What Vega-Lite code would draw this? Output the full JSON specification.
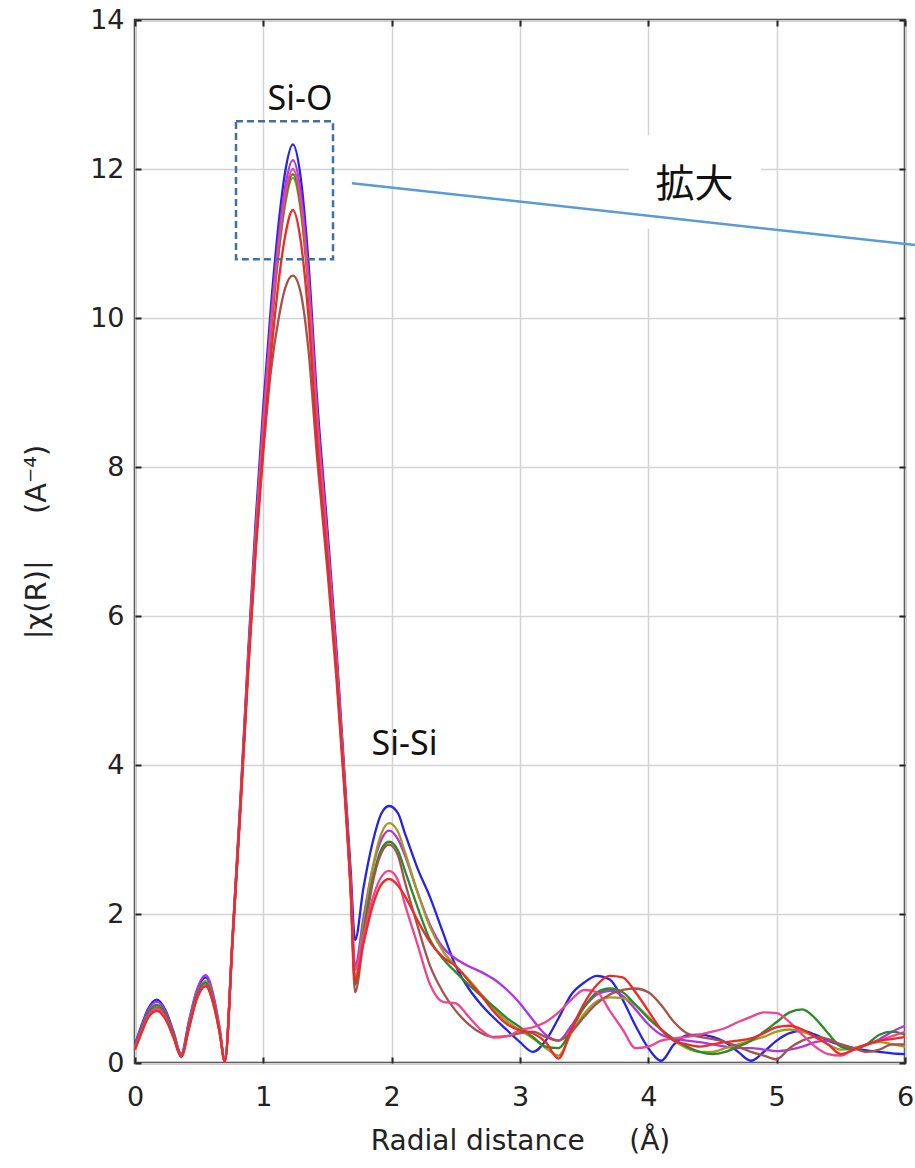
{
"$schema":"https://vega.github.io/schema/vega-lite/v6.json",
"width":770,"height":1043,
"autosize":{"type":"none"},
"padding":{"left":135,"top":20,"right":10,"bottom":105},
"background":"white",
"config":{"font":"DejaVu Sans","view":{"stroke":"#333333","strokeWidth":2.5}},
"datasets":{
"curves":[
{"s":"blue","x":0,"y":0.25},{"s":"blue","x":0.05,"y":0.5},{"s":"blue","x":0.1,"y":0.72},{"s":"blue","x":0.17,"y":0.85},{"s":"blue","x":0.24,"y":0.7},{"s":"blue","x":0.3,"y":0.42},{"s":"blue","x":0.36,"y":0.12},{"s":"blue","x":0.42,"y":0.55},{"s":"blue","x":0.48,"y":0.95},{"s":"blue","x":0.55,"y":1.15},{"s":"blue","x":0.62,"y":0.82},{"s":"blue","x":0.66,"y":0.45},{"s":"blue","x":0.7,"y":0.03},
{"s":"blue","x":0.76,"y":1.7},{"s":"blue","x":0.82,"y":3.5},{"s":"blue","x":0.88,"y":5.45},{"s":"blue","x":0.94,"y":7.27},{"s":"blue","x":1,"y":8.82},{"s":"blue","x":1.06,"y":10.17},{"s":"blue","x":1.12,"y":11.28},{"s":"blue","x":1.17,"y":11.96},{"s":"blue","x":1.23,"y":12.33},{"s":"blue","x":1.29,"y":11.9},{"s":"blue","x":1.35,"y":10.79},{"s":"blue","x":1.42,"y":8.88},{"s":"blue","x":1.5,"y":7.15},{"s":"blue","x":1.57,"y":5.55},{"s":"blue","x":1.63,"y":3.95},{"s":"blue","x":1.68,"y":2.6},
{"s":"blue","x":1.715,"y":1.65},{"s":"blue","x":1.78,"y":2.35},{"s":"blue","x":1.85,"y":2.95},{"s":"blue","x":1.92,"y":3.35},{"s":"blue","x":1.98,"y":3.45},{"s":"blue","x":2.05,"y":3.35},
{"s":"blue","x":2.1,"y":3.1},{"s":"blue","x":2.2,"y":2.62},{"s":"blue","x":2.3,"y":2.22},{"s":"blue","x":2.4,"y":1.75},{"s":"blue","x":2.5,"y":1.3},{"s":"blue","x":2.6,"y":1.0},{"s":"blue","x":2.7,"y":0.78},{"s":"blue","x":2.8,"y":0.6},{"s":"blue","x":2.9,"y":0.44},{"s":"blue","x":3.0,"y":0.28},{"s":"blue","x":3.1,"y":0.15},{"s":"blue","x":3.2,"y":0.3},{"s":"blue","x":3.3,"y":0.6},{"s":"blue","x":3.4,"y":0.92},{"s":"blue","x":3.5,"y":1.08},{"s":"blue","x":3.6,"y":1.17},{"s":"blue","x":3.7,"y":1.12},{"s":"blue","x":3.8,"y":0.85},{"s":"blue","x":3.9,"y":0.5},{"s":"blue","x":4.0,"y":0.2},{"s":"blue","x":4.1,"y":0.03},{"s":"blue","x":4.2,"y":0.25},{"s":"blue","x":4.3,"y":0.37},{"s":"blue","x":4.4,"y":0.38},{"s":"blue","x":4.5,"y":0.35},{"s":"blue","x":4.6,"y":0.28},{"s":"blue","x":4.7,"y":0.15},{"s":"blue","x":4.8,"y":0.03},{"s":"blue","x":4.9,"y":0.15},{"s":"blue","x":5.0,"y":0.3},{"s":"blue","x":5.1,"y":0.4},{"s":"blue","x":5.2,"y":0.43},{"s":"blue","x":5.3,"y":0.38},{"s":"blue","x":5.4,"y":0.3},{"s":"blue","x":5.5,"y":0.24},{"s":"blue","x":5.6,"y":0.2},{"s":"blue","x":5.7,"y":0.17},{"s":"blue","x":5.8,"y":0.15},{"s":"blue","x":5.9,"y":0.13},{"s":"blue","x":6.0,"y":0.12},

{"s":"violet","x":0,"y":0.24},{"s":"violet","x":0.05,"y":0.48},{"s":"violet","x":0.1,"y":0.7},{"s":"violet","x":0.17,"y":0.82},{"s":"violet","x":0.24,"y":0.68},{"s":"violet","x":0.3,"y":0.4},{"s":"violet","x":0.36,"y":0.11},{"s":"violet","x":0.42,"y":0.56},{"s":"violet","x":0.48,"y":0.97},{"s":"violet","x":0.55,"y":1.18},{"s":"violet","x":0.62,"y":0.84},{"s":"violet","x":0.66,"y":0.46},{"s":"violet","x":0.7,"y":0.03},
{"s":"violet","x":0.76,"y":1.68},{"s":"violet","x":0.82,"y":3.45},{"s":"violet","x":0.88,"y":5.38},{"s":"violet","x":0.94,"y":7.15},{"s":"violet","x":1,"y":8.67},{"s":"violet","x":1.06,"y":10.0},{"s":"violet","x":1.12,"y":11.09},{"s":"violet","x":1.17,"y":11.76},{"s":"violet","x":1.23,"y":12.12},{"s":"violet","x":1.29,"y":11.7},{"s":"violet","x":1.35,"y":10.6},{"s":"violet","x":1.42,"y":8.73},{"s":"violet","x":1.5,"y":7.03},{"s":"violet","x":1.57,"y":5.45},{"s":"violet","x":1.63,"y":3.88},{"s":"violet","x":1.68,"y":2.45},
{"s":"violet","x":1.715,"y":1.3},{"s":"violet","x":1.78,"y":1.95},{"s":"violet","x":1.85,"y":2.6},{"s":"violet","x":1.92,"y":3.0},{"s":"violet","x":1.98,"y":3.12},{"s":"violet","x":2.05,"y":3.0},
{"s":"violet","x":2.1,"y":2.8},{"s":"violet","x":2.2,"y":2.3},{"s":"violet","x":2.3,"y":1.85},{"s":"violet","x":2.4,"y":1.55},{"s":"violet","x":2.5,"y":1.4},{"s":"violet","x":2.6,"y":1.3},{"s":"violet","x":2.7,"y":1.22},{"s":"violet","x":2.8,"y":1.12},{"s":"violet","x":2.9,"y":0.98},{"s":"violet","x":3.0,"y":0.8},{"s":"violet","x":3.1,"y":0.58},{"s":"violet","x":3.2,"y":0.38},{"s":"violet","x":3.3,"y":0.3},{"s":"violet","x":3.4,"y":0.5},{"s":"violet","x":3.5,"y":0.75},{"s":"violet","x":3.6,"y":0.92},{"s":"violet","x":3.7,"y":0.97},{"s":"violet","x":3.8,"y":0.9},{"s":"violet","x":3.9,"y":0.72},{"s":"violet","x":4.0,"y":0.52},{"s":"violet","x":4.1,"y":0.38},{"s":"violet","x":4.2,"y":0.33},{"s":"violet","x":4.3,"y":0.3},{"s":"violet","x":4.4,"y":0.28},{"s":"violet","x":4.5,"y":0.25},{"s":"violet","x":4.6,"y":0.22},{"s":"violet","x":4.7,"y":0.2},{"s":"violet","x":4.8,"y":0.2},{"s":"violet","x":4.9,"y":0.18},{"s":"violet","x":5.0,"y":0.16},{"s":"violet","x":5.1,"y":0.18},{"s":"violet","x":5.2,"y":0.22},{"s":"violet","x":5.3,"y":0.28},{"s":"violet","x":5.4,"y":0.3},{"s":"violet","x":5.5,"y":0.25},{"s":"violet","x":5.6,"y":0.2},{"s":"violet","x":5.7,"y":0.24},{"s":"violet","x":5.8,"y":0.32},{"s":"violet","x":5.9,"y":0.42},{"s":"violet","x":6.0,"y":0.5},

{"s":"olive","x":0,"y":0.22},{"s":"olive","x":0.05,"y":0.45},{"s":"olive","x":0.1,"y":0.65},{"s":"olive","x":0.17,"y":0.77},{"s":"olive","x":0.24,"y":0.64},{"s":"olive","x":0.3,"y":0.38},{"s":"olive","x":0.36,"y":0.1},{"s":"olive","x":0.42,"y":0.5},{"s":"olive","x":0.48,"y":0.9},{"s":"olive","x":0.55,"y":1.1},{"s":"olive","x":0.62,"y":0.78},{"s":"olive","x":0.66,"y":0.43},{"s":"olive","x":0.7,"y":0.02},
{"s":"olive","x":0.76,"y":1.65},{"s":"olive","x":0.82,"y":3.4},{"s":"olive","x":0.88,"y":5.28},{"s":"olive","x":0.94,"y":7.01},{"s":"olive","x":1,"y":8.5},{"s":"olive","x":1.06,"y":9.8},{"s":"olive","x":1.12,"y":10.87},{"s":"olive","x":1.17,"y":11.52},{"s":"olive","x":1.23,"y":11.88},{"s":"olive","x":1.29,"y":11.46},{"s":"olive","x":1.35,"y":10.4},{"s":"olive","x":1.42,"y":8.55},{"s":"olive","x":1.5,"y":6.89},{"s":"olive","x":1.57,"y":5.35},{"s":"olive","x":1.63,"y":3.8},{"s":"olive","x":1.68,"y":2.38},
{"s":"olive","x":1.715,"y":1.15},{"s":"olive","x":1.78,"y":1.85},{"s":"olive","x":1.85,"y":2.6},{"s":"olive","x":1.92,"y":3.08},{"s":"olive","x":1.98,"y":3.22},{"s":"olive","x":2.05,"y":3.1},
{"s":"olive","x":2.1,"y":2.85},{"s":"olive","x":2.2,"y":2.3},{"s":"olive","x":2.3,"y":1.82},{"s":"olive","x":2.4,"y":1.5},{"s":"olive","x":2.5,"y":1.3},{"s":"olive","x":2.6,"y":1.12},{"s":"olive","x":2.7,"y":0.92},{"s":"olive","x":2.8,"y":0.72},{"s":"olive","x":2.9,"y":0.56},{"s":"olive","x":3.0,"y":0.44},{"s":"olive","x":3.1,"y":0.33},{"s":"olive","x":3.2,"y":0.2},{"s":"olive","x":3.3,"y":0.1},{"s":"olive","x":3.4,"y":0.4},{"s":"olive","x":3.5,"y":0.66},{"s":"olive","x":3.6,"y":0.83},{"s":"olive","x":3.7,"y":0.88},{"s":"olive","x":3.8,"y":0.87},{"s":"olive","x":3.9,"y":0.78},{"s":"olive","x":4.0,"y":0.62},{"s":"olive","x":4.1,"y":0.45},{"s":"olive","x":4.2,"y":0.3},{"s":"olive","x":4.3,"y":0.2},{"s":"olive","x":4.4,"y":0.15},{"s":"olive","x":4.5,"y":0.15},{"s":"olive","x":4.6,"y":0.2},{"s":"olive","x":4.7,"y":0.25},{"s":"olive","x":4.8,"y":0.3},{"s":"olive","x":4.9,"y":0.35},{"s":"olive","x":5.0,"y":0.42},{"s":"olive","x":5.1,"y":0.45},{"s":"olive","x":5.2,"y":0.42},{"s":"olive","x":5.3,"y":0.35},{"s":"olive","x":5.4,"y":0.25},{"s":"olive","x":5.5,"y":0.18},{"s":"olive","x":5.6,"y":0.2},{"s":"olive","x":5.7,"y":0.25},{"s":"olive","x":5.8,"y":0.28},{"s":"olive","x":5.9,"y":0.25},{"s":"olive","x":6.0,"y":0.22},

{"s":"green","x":0,"y":0.22},{"s":"green","x":0.05,"y":0.45},{"s":"green","x":0.1,"y":0.66},{"s":"green","x":0.17,"y":0.78},{"s":"green","x":0.24,"y":0.65},{"s":"green","x":0.3,"y":0.38},{"s":"green","x":0.36,"y":0.1},{"s":"green","x":0.42,"y":0.5},{"s":"green","x":0.48,"y":0.9},{"s":"green","x":0.55,"y":1.08},{"s":"green","x":0.62,"y":0.77},{"s":"green","x":0.66,"y":0.42},{"s":"green","x":0.7,"y":0.02},
{"s":"green","x":0.76,"y":1.66},{"s":"green","x":0.82,"y":3.42},{"s":"green","x":0.88,"y":5.3},{"s":"green","x":0.94,"y":7.04},{"s":"green","x":1,"y":8.53},{"s":"green","x":1.06,"y":9.84},{"s":"green","x":1.12,"y":10.92},{"s":"green","x":1.17,"y":11.57},{"s":"green","x":1.23,"y":11.93},{"s":"green","x":1.29,"y":11.51},{"s":"green","x":1.35,"y":10.44},{"s":"green","x":1.42,"y":8.59},{"s":"green","x":1.5,"y":6.92},{"s":"green","x":1.57,"y":5.37},{"s":"green","x":1.63,"y":3.82},{"s":"green","x":1.68,"y":2.39},
{"s":"green","x":1.715,"y":1.05},{"s":"green","x":1.78,"y":1.75},{"s":"green","x":1.85,"y":2.45},{"s":"green","x":1.92,"y":2.87},{"s":"green","x":1.98,"y":2.97},{"s":"green","x":2.05,"y":2.85},
{"s":"green","x":2.1,"y":2.6},{"s":"green","x":2.2,"y":2.1},{"s":"green","x":2.3,"y":1.65},{"s":"green","x":2.4,"y":1.4},{"s":"green","x":2.5,"y":1.22},{"s":"green","x":2.6,"y":1.05},{"s":"green","x":2.7,"y":0.9},{"s":"green","x":2.8,"y":0.75},{"s":"green","x":2.9,"y":0.6},{"s":"green","x":3.0,"y":0.48},{"s":"green","x":3.1,"y":0.35},{"s":"green","x":3.2,"y":0.22},{"s":"green","x":3.3,"y":0.2},{"s":"green","x":3.4,"y":0.45},{"s":"green","x":3.5,"y":0.75},{"s":"green","x":3.6,"y":0.95},{"s":"green","x":3.7,"y":1.0},{"s":"green","x":3.8,"y":0.95},{"s":"green","x":3.9,"y":0.78},{"s":"green","x":4.0,"y":0.6},{"s":"green","x":4.1,"y":0.45},{"s":"green","x":4.2,"y":0.32},{"s":"green","x":4.3,"y":0.22},{"s":"green","x":4.4,"y":0.15},{"s":"green","x":4.5,"y":0.12},{"s":"green","x":4.6,"y":0.15},{"s":"green","x":4.7,"y":0.22},{"s":"green","x":4.8,"y":0.3},{"s":"green","x":4.9,"y":0.42},{"s":"green","x":5.0,"y":0.55},{"s":"green","x":5.1,"y":0.68},{"s":"green","x":5.2,"y":0.72},{"s":"green","x":5.3,"y":0.6},{"s":"green","x":5.4,"y":0.4},{"s":"green","x":5.5,"y":0.22},{"s":"green","x":5.6,"y":0.18},{"s":"green","x":5.7,"y":0.25},{"s":"green","x":5.8,"y":0.38},{"s":"green","x":5.9,"y":0.42},{"s":"green","x":6.0,"y":0.38},

{"s":"brown","x":0,"y":0.2},{"s":"brown","x":0.05,"y":0.43},{"s":"brown","x":0.1,"y":0.63},{"s":"brown","x":0.17,"y":0.74},{"s":"brown","x":0.24,"y":0.62},{"s":"brown","x":0.3,"y":0.36},{"s":"brown","x":0.36,"y":0.09},{"s":"brown","x":0.42,"y":0.48},{"s":"brown","x":0.48,"y":0.87},{"s":"brown","x":0.55,"y":1.05},{"s":"brown","x":0.62,"y":0.75},{"s":"brown","x":0.66,"y":0.41},{"s":"brown","x":0.7,"y":0.02},
{"s":"brown","x":0.76,"y":1.63},{"s":"brown","x":0.82,"y":3.35},{"s":"brown","x":0.88,"y":5.18},{"s":"brown","x":0.94,"y":6.85},{"s":"brown","x":1,"y":8.2},{"s":"brown","x":1.06,"y":9.3},{"s":"brown","x":1.12,"y":10.0},{"s":"brown","x":1.17,"y":10.4},{"s":"brown","x":1.23,"y":10.57},{"s":"brown","x":1.29,"y":10.35},{"s":"brown","x":1.35,"y":9.6},{"s":"brown","x":1.42,"y":8.1},{"s":"brown","x":1.5,"y":6.6},{"s":"brown","x":1.57,"y":5.15},{"s":"brown","x":1.63,"y":3.7},{"s":"brown","x":1.68,"y":2.3},
{"s":"brown","x":1.715,"y":0.95},{"s":"brown","x":1.78,"y":1.65},{"s":"brown","x":1.85,"y":2.4},{"s":"brown","x":1.92,"y":2.82},{"s":"brown","x":1.98,"y":2.93},{"s":"brown","x":2.05,"y":2.78},
{"s":"brown","x":2.1,"y":2.45},{"s":"brown","x":2.2,"y":1.85},{"s":"brown","x":2.3,"y":1.3},{"s":"brown","x":2.4,"y":0.95},{"s":"brown","x":2.5,"y":0.7},{"s":"brown","x":2.6,"y":0.52},{"s":"brown","x":2.7,"y":0.4},{"s":"brown","x":2.8,"y":0.35},{"s":"brown","x":2.9,"y":0.36},{"s":"brown","x":3.0,"y":0.4},{"s":"brown","x":3.1,"y":0.42},{"s":"brown","x":3.2,"y":0.35},{"s":"brown","x":3.3,"y":0.3},{"s":"brown","x":3.4,"y":0.42},{"s":"brown","x":3.5,"y":0.62},{"s":"brown","x":3.6,"y":0.8},{"s":"brown","x":3.7,"y":0.92},{"s":"brown","x":3.8,"y":0.98},{"s":"brown","x":3.9,"y":1.0},{"s":"brown","x":4.0,"y":0.95},{"s":"brown","x":4.1,"y":0.78},{"s":"brown","x":4.2,"y":0.55},{"s":"brown","x":4.3,"y":0.4},{"s":"brown","x":4.4,"y":0.35},{"s":"brown","x":4.5,"y":0.32},{"s":"brown","x":4.6,"y":0.28},{"s":"brown","x":4.7,"y":0.22},{"s":"brown","x":4.8,"y":0.15},{"s":"brown","x":4.9,"y":0.1},{"s":"brown","x":5.0,"y":0.05},{"s":"brown","x":5.1,"y":0.2},{"s":"brown","x":5.2,"y":0.3},{"s":"brown","x":5.3,"y":0.35},{"s":"brown","x":5.4,"y":0.32},{"s":"brown","x":5.5,"y":0.25},{"s":"brown","x":5.6,"y":0.2},{"s":"brown","x":5.7,"y":0.15},{"s":"brown","x":5.8,"y":0.18},{"s":"brown","x":5.9,"y":0.25},{"s":"brown","x":6.0,"y":0.25},

{"s":"pink","x":0,"y":0.2},{"s":"pink","x":0.05,"y":0.42},{"s":"pink","x":0.1,"y":0.62},{"s":"pink","x":0.17,"y":0.73},{"s":"pink","x":0.24,"y":0.6},{"s":"pink","x":0.3,"y":0.35},{"s":"pink","x":0.36,"y":0.09},{"s":"pink","x":0.42,"y":0.47},{"s":"pink","x":0.48,"y":0.86},{"s":"pink","x":0.55,"y":1.04},{"s":"pink","x":0.62,"y":0.74},{"s":"pink","x":0.66,"y":0.4},{"s":"pink","x":0.7,"y":0.02},
{"s":"pink","x":0.76,"y":1.66},{"s":"pink","x":0.82,"y":3.43},{"s":"pink","x":0.88,"y":5.33},{"s":"pink","x":0.94,"y":7.08},{"s":"pink","x":1,"y":8.58},{"s":"pink","x":1.06,"y":9.9},{"s":"pink","x":1.12,"y":10.98},{"s":"pink","x":1.17,"y":11.64},{"s":"pink","x":1.23,"y":12.0},{"s":"pink","x":1.29,"y":11.58},{"s":"pink","x":1.35,"y":10.5},{"s":"pink","x":1.42,"y":8.64},{"s":"pink","x":1.5,"y":6.96},{"s":"pink","x":1.57,"y":5.4},{"s":"pink","x":1.63,"y":3.84},{"s":"pink","x":1.68,"y":2.4},
{"s":"pink","x":1.715,"y":1.25},{"s":"pink","x":1.78,"y":1.7},{"s":"pink","x":1.85,"y":2.2},{"s":"pink","x":1.92,"y":2.5},{"s":"pink","x":1.98,"y":2.58},{"s":"pink","x":2.05,"y":2.45},
{"s":"pink","x":2.1,"y":2.15},{"s":"pink","x":2.2,"y":1.6},{"s":"pink","x":2.3,"y":1.05},{"s":"pink","x":2.4,"y":0.82},{"s":"pink","x":2.5,"y":0.8},{"s":"pink","x":2.6,"y":0.62},{"s":"pink","x":2.7,"y":0.44},{"s":"pink","x":2.8,"y":0.34},{"s":"pink","x":2.9,"y":0.36},{"s":"pink","x":3.0,"y":0.44},{"s":"pink","x":3.1,"y":0.48},{"s":"pink","x":3.2,"y":0.55},{"s":"pink","x":3.3,"y":0.68},{"s":"pink","x":3.4,"y":0.85},{"s":"pink","x":3.5,"y":0.98},{"s":"pink","x":3.6,"y":0.95},{"s":"pink","x":3.7,"y":0.7},{"s":"pink","x":3.8,"y":0.45},{"s":"pink","x":3.9,"y":0.2},{"s":"pink","x":4.0,"y":0.22},{"s":"pink","x":4.1,"y":0.3},{"s":"pink","x":4.2,"y":0.33},{"s":"pink","x":4.3,"y":0.35},{"s":"pink","x":4.4,"y":0.38},{"s":"pink","x":4.5,"y":0.42},{"s":"pink","x":4.6,"y":0.47},{"s":"pink","x":4.7,"y":0.55},{"s":"pink","x":4.8,"y":0.62},{"s":"pink","x":4.9,"y":0.68},{"s":"pink","x":5.0,"y":0.67},{"s":"pink","x":5.1,"y":0.55},{"s":"pink","x":5.2,"y":0.38},{"s":"pink","x":5.3,"y":0.22},{"s":"pink","x":5.4,"y":0.12},{"s":"pink","x":5.5,"y":0.1},{"s":"pink","x":5.6,"y":0.18},{"s":"pink","x":5.7,"y":0.25},{"s":"pink","x":5.8,"y":0.3},{"s":"pink","x":5.9,"y":0.36},{"s":"pink","x":6.0,"y":0.42},

{"s":"red","x":0,"y":0.18},{"s":"red","x":0.05,"y":0.4},{"s":"red","x":0.1,"y":0.6},{"s":"red","x":0.17,"y":0.7},{"s":"red","x":0.24,"y":0.58},{"s":"red","x":0.3,"y":0.34},{"s":"red","x":0.36,"y":0.08},{"s":"red","x":0.42,"y":0.46},{"s":"red","x":0.48,"y":0.85},{"s":"red","x":0.55,"y":1.03},{"s":"red","x":0.62,"y":0.73},{"s":"red","x":0.66,"y":0.4},{"s":"red","x":0.7,"y":0.02},
{"s":"red","x":0.76,"y":1.64},{"s":"red","x":0.82,"y":3.38},{"s":"red","x":0.88,"y":5.24},{"s":"red","x":0.94,"y":6.9},{"s":"red","x":1,"y":8.3},{"s":"red","x":1.06,"y":9.5},{"s":"red","x":1.12,"y":10.5},{"s":"red","x":1.17,"y":11.1},{"s":"red","x":1.23,"y":11.45},{"s":"red","x":1.29,"y":11.05},{"s":"red","x":1.35,"y":10.05},{"s":"red","x":1.42,"y":8.3},{"s":"red","x":1.5,"y":6.75},{"s":"red","x":1.57,"y":5.25},{"s":"red","x":1.63,"y":3.75},{"s":"red","x":1.68,"y":2.35},
{"s":"red","x":1.715,"y":1.1},{"s":"red","x":1.78,"y":1.6},{"s":"red","x":1.85,"y":2.1},{"s":"red","x":1.92,"y":2.4},{"s":"red","x":1.98,"y":2.47},{"s":"red","x":2.05,"y":2.38},
{"s":"red","x":2.1,"y":2.25},{"s":"red","x":2.2,"y":1.92},{"s":"red","x":2.3,"y":1.62},{"s":"red","x":2.4,"y":1.42},{"s":"red","x":2.5,"y":1.3},{"s":"red","x":2.6,"y":1.1},{"s":"red","x":2.7,"y":0.9},{"s":"red","x":2.8,"y":0.68},{"s":"red","x":2.9,"y":0.52},{"s":"red","x":3.0,"y":0.44},{"s":"red","x":3.1,"y":0.4},{"s":"red","x":3.2,"y":0.28},{"s":"red","x":3.3,"y":0.06},{"s":"red","x":3.4,"y":0.45},{"s":"red","x":3.5,"y":0.8},{"s":"red","x":3.6,"y":1.05},{"s":"red","x":3.7,"y":1.17},{"s":"red","x":3.8,"y":1.15},{"s":"red","x":3.9,"y":0.95},{"s":"red","x":4.0,"y":0.7},{"s":"red","x":4.1,"y":0.45},{"s":"red","x":4.2,"y":0.3},{"s":"red","x":4.3,"y":0.25},{"s":"red","x":4.4,"y":0.22},{"s":"red","x":4.5,"y":0.25},{"s":"red","x":4.6,"y":0.28},{"s":"red","x":4.7,"y":0.3},{"s":"red","x":4.8,"y":0.33},{"s":"red","x":4.9,"y":0.4},{"s":"red","x":5.0,"y":0.48},{"s":"red","x":5.1,"y":0.5},{"s":"red","x":5.2,"y":0.45},{"s":"red","x":5.3,"y":0.35},{"s":"red","x":5.4,"y":0.25},{"s":"red","x":5.5,"y":0.12},{"s":"red","x":5.6,"y":0.18},{"s":"red","x":5.7,"y":0.25},{"s":"red","x":5.8,"y":0.3},{"s":"red","x":5.9,"y":0.32},{"s":"red","x":6.0,"y":0.35}
],
"cover":[{"x":3.85,"x2":4.88,"y":12.45,"y2":11.2}],
"labels":[{"x":1.286,"y":12.93,"text":"Si-O"},{"x":2.1,"y":4.27,"text":"Si-Si"}],
"zoomlabel":[{"x":4.36,"y":11.79,"text":"拡大"}],
"pointer":[{"x":1.69,"y":11.81,"x2":6.08,"y2":10.98}],
"box":[{"x":0.787,"x2":1.543,"y":12.64,"y2":10.79}]
},
"layer":[
{"data":{"name":"curves"},
 "mark":{"type":"line","interpolate":"monotone","strokeWidth":2.3},
 "encoding":{
  "x":{"field":"x","type":"quantitative","scale":{"domain":[0,6],"nice":false},
   "axis":{"orient":"bottom","values":[0,1,2,3,4,5,6],"grid":true,"gridColor":"#d4d4d4","gridWidth":1.5,"domain":false,"tickSize":-6,"tickColor":"#222222","tickWidth":2,"labelFontSize":27,"labelColor":"#222222","labelPadding":27,"labelFlush":false,"title":"Radial distance \u00a0\u00a0\u00a0\u00a0(Å)","titleFontSize":28,"titleFontWeight":"normal","titleColor":"#222222","titlePadding":17}},
  "y":{"field":"y","type":"quantitative","scale":{"domain":[0,14],"nice":false},
   "axis":{"orient":"left","values":[0,2,4,6,8,10,12,14],"grid":true,"gridColor":"#d4d4d4","gridWidth":1.5,"domain":false,"tickSize":-6,"tickColor":"#222222","tickWidth":2,"labelFontSize":27,"labelColor":"#222222","labelPadding":17,"title":"|χ(R)|\u00a0\u00a0\u00a0\u00a0\u00a0(A⁻⁴)","titleFontSize":29,"titleFontWeight":"normal","titleColor":"#222222","titlePadding":38}},
  "color":{"field":"s","type":"nominal","scale":{"domain":["blue","violet","olive","green","brown","pink","red"],"range":["#2424e6","#b035e0","#a39a22","#2a8a2a","#a3524c","#f0458c","#f02828"]},"legend":null}
 }},
{"data":{"name":"cover"},
 "mark":{"type":"rect","fill":"white"},
 "encoding":{
  "x":{"field":"x","type":"quantitative","axis":{"orient":"top","values":[0,1,2,3,4,5,6],"labels":false,"grid":false,"domain":false,"tickSize":-6,"tickColor":"#222222","tickWidth":2,"title":null}},
  "x2":{"field":"x2"},
  "y":{"field":"y","type":"quantitative","axis":{"orient":"right","values":[0,2,4,6,8,10,12,14],"labels":false,"grid":false,"domain":false,"tickSize":-6,"tickColor":"#222222","tickWidth":2,"title":null}},
  "y2":{"field":"y2"}
 }},
{"data":{"name":"zoomlabel"},
 "mark":{"type":"text","font":"Noto Sans CJK JP","fontSize":39,"color":"#111111","align":"center","baseline":"middle"},
 "encoding":{"x":{"field":"x","type":"quantitative","axis":null},"y":{"field":"y","type":"quantitative","axis":null},"text":{"field":"text"}}},
{"data":{"name":"pointer"},
 "mark":{"type":"rule","color":"#5b9bd5","strokeWidth":2.5,"clip":false},
 "encoding":{"x":{"field":"x","type":"quantitative","axis":null},"y":{"field":"y","type":"quantitative","axis":null},"x2":{"field":"x2"},"y2":{"field":"y2"}}},
{"data":{"name":"box"},
 "mark":{"type":"rect","fill":"transparent","stroke":"#41719c","strokeWidth":2.5,"strokeDash":[7,4]},
 "encoding":{"x":{"field":"x","type":"quantitative","axis":null},"x2":{"field":"x2"},"y":{"field":"y","type":"quantitative","axis":null},"y2":{"field":"y2"}}},
{"data":{"name":"labels"},
 "mark":{"type":"text","font":"Noto Sans","fontSize":34,"color":"#111111","align":"center","baseline":"middle"},
 "encoding":{"x":{"field":"x","type":"quantitative","axis":null},"y":{"field":"y","type":"quantitative","axis":null},"text":{"field":"text"}}}
],
"resolve":{"axis":{"x":"independent","y":"independent"}}
}
